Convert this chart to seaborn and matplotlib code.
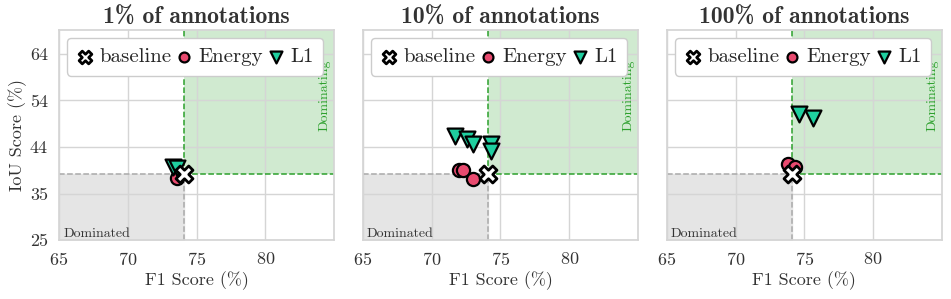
import numpy as np
import pandas as pd
import matplotlib.pyplot as plt
import seaborn as sns

# values
panels = ["1% of annotations", "10% of annotations", "100% of annotations"]

baseline_f1 = [74.1, 74.1, 74.1]
baseline_iou = [38.9, 38.9, 38.9]

energy_f1 = [[73.6], [72.0, 72.3, 73.0], [73.8, 74.3]]
energy_iou = [[38.0], [39.6, 39.6, 37.8], [41.0, 40.3]]

l1_f1 = [[73.3, 73.6], [71.7, 72.6, 73.0, 74.3, 74.3], [74.6, 75.6]]
l1_iou = [[40.3, 40.1], [46.7, 46.1, 45.2, 45.2, 43.7], [51.3, 50.6]]

x_ticks = [65, 70, 75, 80]
y_ticks = np.linspace(25, 64, 5)

sns.set_theme(style="whitegrid")
plt.rcParams['font.family'] = ['cmr10', 'DejaVu Serif']
plt.rcParams['mathtext.fontset'] = 'cm'
plt.rcParams['axes.formatter.use_mathtext'] = True

fig, axes = plt.subplots(1, 3, figsize=(9.51, 2.99), dpi=100, sharey=True)
plt.subplots_adjust(left=0.062, right=0.9905, top=0.90, bottom=0.197, wspace=0.105)

energy_col = "#e84a6f"
l1_col = "#1fcf9f"

for i, ax in enumerate(axes):
    bx, by = baseline_f1[i], baseline_iou[i]
    ax.set_xlim(65, 85)
    ax.set_ylim(25, 69)

    # dominated / dominating regions
    ax.fill_between([65, bx], 25, by, color="#e5e5e5", zorder=0)
    ax.fill_between([bx, 85], by, 69, color="#2ca02c", alpha=0.22, lw=0, zorder=0)
    ax.plot([65, bx], [by, by], ls="--", color="#aaaaaa", lw=1.1, zorder=1)
    ax.plot([bx, bx], [25, by], ls="--", color="#aaaaaa", lw=1.1, zorder=1)
    ax.plot([bx, 85], [by, by], ls="--", color="#2ca02c", lw=1.1, zorder=1)
    ax.plot([bx, bx], [by, 69], ls="--", color="#2ca02c", lw=1.1, zorder=1)
    ax.text(65.3, 25.6, "Dominated", fontsize=10, color="#333333", zorder=2)
    ax.text(84.75, 47.8, "Dominating", fontsize=10, color="#2ca02c",
            rotation=90, ha="right", va="bottom", zorder=2)

    df_b = pd.DataFrame({"f1": [bx], "iou": [by]})
    df_e = pd.DataFrame({"f1": energy_f1[i], "iou": energy_iou[i]})
    df_l = pd.DataFrame({"f1": l1_f1[i], "iou": l1_iou[i]})

    sns.scatterplot(data=df_e, x="f1", y="iou", ax=ax, marker="o", s=90,
                    color=energy_col, edgecolor="black", linewidth=1.6,
                    label="Energy", zorder=4)
    sns.scatterplot(data=df_l, x="f1", y="iou", ax=ax, marker="v", s=130,
                    color=l1_col, edgecolor="black", linewidth=1.6,
                    label="L1", zorder=4)
    sns.scatterplot(data=df_b, x="f1", y="iou", ax=ax, marker="X", s=150,
                    color="white", edgecolor="black", linewidth=2.0,
                    label="baseline", zorder=5)

    handles, labels = ax.get_legend_handles_labels()
    order = [2, 0, 1]
    leg = ax.legend([handles[k] for k in order], [labels[k] for k in order],
                    loc="upper left", ncol=3, fontsize=15, handletextpad=0.3,
                    columnspacing=0.2, borderpad=0.45, handlelength=0.8,
                    borderaxespad=0.4, framealpha=1.0, fancybox=True,
                    markerscale=0.75)
    leg.set_zorder(6)

    ax.set_xticks(x_ticks)
    ax.set_yticks(y_ticks)
    ax.set_yticklabels(["%.0f" % v for v in y_ticks])
    ax.tick_params(axis="both", labelsize=13, colors="#333333", pad=2)
    ax.set_xlabel("F1 Score (%)", fontsize=13, color="#333333", labelpad=2)
    ax.set_ylabel("IoU Score (%)" if i == 0 else "", fontsize=13, color="#333333",
                  labelpad=2)
    ax.set_title(panels[i], fontsize=17, fontfamily="cmb10", color="#333333", pad=4)
    ax.grid(color="#d5d5d5", lw=1.0)
    for sp in ax.spines.values():
        sp.set_color("#d5d5d5")

fig.savefig("out.png", dpi=100)
